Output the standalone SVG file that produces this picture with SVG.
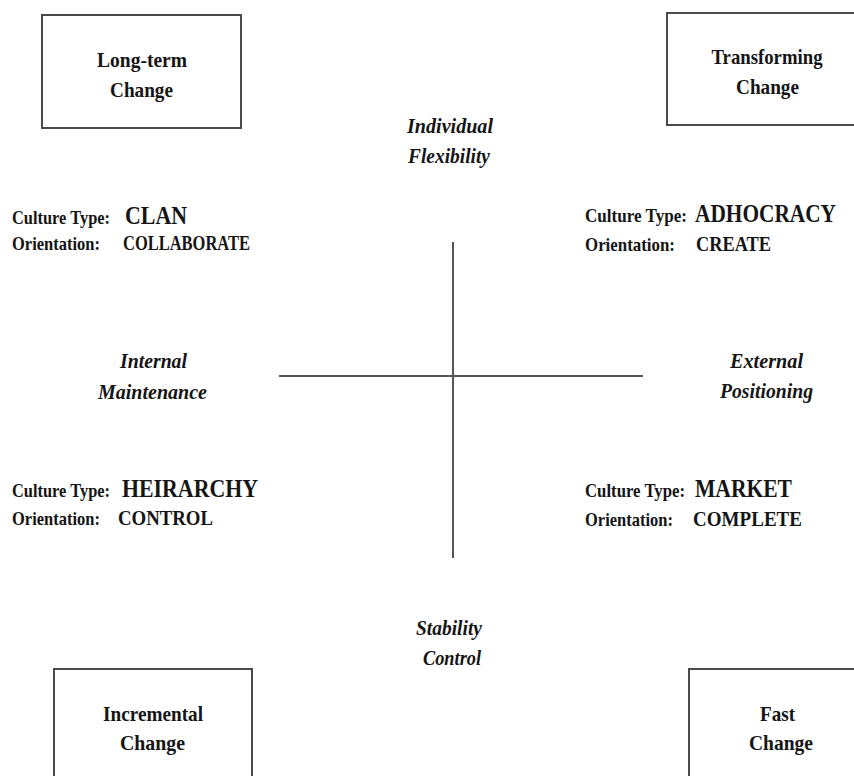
<svg xmlns="http://www.w3.org/2000/svg" width="854" height="776" viewBox="0 0 854 776">
<style>
text{font-family:"Liberation Serif","Times New Roman",serif;font-weight:bold;fill:#151515}
.box{fill:#fff;stroke:#4a4a4a;stroke-width:2}
.bt{font-size:22px;text-anchor:middle}
.ax{font-size:22px;font-style:italic;text-anchor:middle}
.lb{font-size:19px}
.ty{font-size:26px}
.ov{font-size:20px}
.ln{stroke:#555;stroke-width:2;fill:none}
</style>
<rect width="854" height="776" fill="#fff"/>
<g id="connectors">
<line class="ln" x1="453" y1="242" x2="453" y2="558"/>
<line class="ln" x1="279" y1="376" x2="643" y2="376"/>
</g>
<g id="long-term">
<rect class="box" x="42" y="15" width="199" height="113"/>
<text class="bt" x="142" y="67" textLength="90" lengthAdjust="spacingAndGlyphs">Long-term</text>
<text class="bt" x="141.5" y="97" textLength="63" lengthAdjust="spacingAndGlyphs">Change</text>
</g>
<g id="transforming">
<rect class="box" x="667" y="13" width="200" height="112"/>
<text class="bt" x="767" y="64" textLength="111" lengthAdjust="spacingAndGlyphs">Transforming</text>
<text class="bt" x="767.5" y="94" textLength="63" lengthAdjust="spacingAndGlyphs">Change</text>
</g>
<g id="incremental">
<rect class="box" x="54" y="669" width="198" height="120"/>
<text class="bt" x="153" y="721" textLength="100" lengthAdjust="spacingAndGlyphs">Incremental</text>
<text class="bt" x="152.5" y="750" textLength="65" lengthAdjust="spacingAndGlyphs">Change</text>
</g>
<g id="fast">
<rect class="box" x="689" y="669" width="200" height="120"/>
<text class="bt" x="777.5" y="721" textLength="35" lengthAdjust="spacingAndGlyphs">Fast</text>
<text class="bt" x="781" y="750" textLength="64" lengthAdjust="spacingAndGlyphs">Change</text>
</g>
<g id="individual-flexibility">
<text class="ax" x="450" y="133" textLength="86" lengthAdjust="spacingAndGlyphs">Individual</text>
<text class="ax" x="449" y="163" textLength="82" lengthAdjust="spacingAndGlyphs">Flexibility</text>
</g>
<g id="internal-maintenance">
<text class="ax" x="153.5" y="368" textLength="67" lengthAdjust="spacingAndGlyphs">Internal</text>
<text class="ax" x="152.5" y="399" textLength="109" lengthAdjust="spacingAndGlyphs">Maintenance</text>
</g>
<g id="external-positioning">
<text class="ax" x="766.5" y="368" textLength="73" lengthAdjust="spacingAndGlyphs">External</text>
<text class="ax" x="766.5" y="398" textLength="93" lengthAdjust="spacingAndGlyphs">Positioning</text>
</g>
<g id="stability-control">
<text class="ax" x="449" y="635" textLength="66" lengthAdjust="spacingAndGlyphs">Stability</text>
<text class="ax" x="452" y="665" textLength="58" lengthAdjust="spacingAndGlyphs">Control</text>
</g>
<g id="clan">
<text class="lb" x="12" y="224" textLength="98" lengthAdjust="spacingAndGlyphs">Culture Type:</text>
<text class="ty" x="125" y="224" textLength="62" lengthAdjust="spacingAndGlyphs">CLAN</text>
<text class="lb" x="12" y="250" textLength="88" lengthAdjust="spacingAndGlyphs">Orientation:</text>
<text class="ov" x="123" y="250" textLength="127" lengthAdjust="spacingAndGlyphs">COLLABORATE</text>
</g>
<g id="adhocracy">
<text class="lb" x="585" y="222" textLength="102" lengthAdjust="spacingAndGlyphs">Culture Type:</text>
<text x="695" y="222" font-size="23" transform="translate(0,-28.86) scale(1,1.13)" textLength="141" lengthAdjust="spacingAndGlyphs">ADHOCRACY</text>
<text class="lb" x="585" y="251" textLength="90" lengthAdjust="spacingAndGlyphs">Orientation:</text>
<text class="ov" x="696" y="251" textLength="75" lengthAdjust="spacingAndGlyphs">CREATE</text>
</g>
<g id="heirarchy">
<text class="lb" x="12" y="497" textLength="98" lengthAdjust="spacingAndGlyphs">Culture Type:</text>
<text class="ty" x="122" y="497" textLength="136" lengthAdjust="spacingAndGlyphs">HEIRARCHY</text>
<text class="lb" x="12" y="525" textLength="88" lengthAdjust="spacingAndGlyphs">Orientation:</text>
<text class="ov" x="118" y="525" textLength="95" lengthAdjust="spacingAndGlyphs">CONTROL</text>
</g>
<g id="market">
<text class="lb" x="585" y="497" textLength="100" lengthAdjust="spacingAndGlyphs">Culture Type:</text>
<text class="ty" x="695" y="497" textLength="97" lengthAdjust="spacingAndGlyphs">MARKET</text>
<text class="lb" x="585" y="526" textLength="88" lengthAdjust="spacingAndGlyphs">Orientation:</text>
<text class="ov" x="693" y="526" textLength="109" lengthAdjust="spacingAndGlyphs">COMPLETE</text>
</g>
</svg>
